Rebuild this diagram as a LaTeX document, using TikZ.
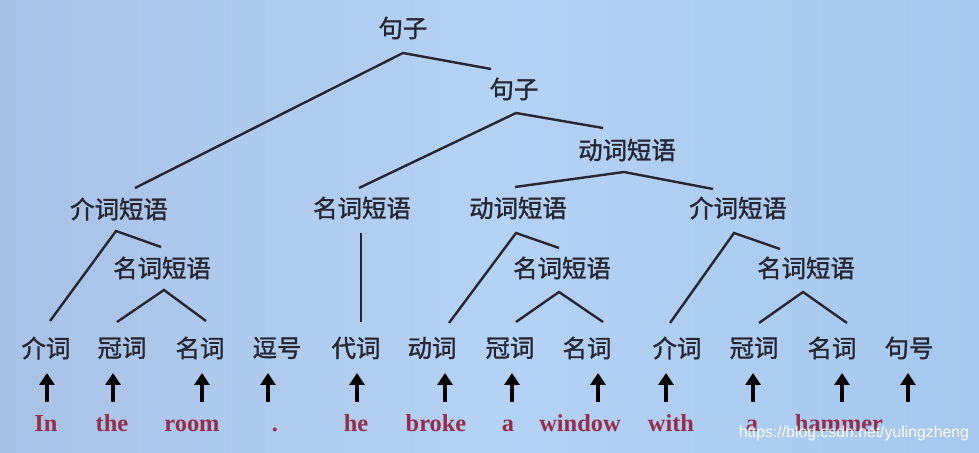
\documentclass[tikz,border=0pt]{standalone}
\usepackage{fontspec}
\usepackage{tikz}
\usetikzlibrary{calc,arrows.meta}

\newfontfamily\cjk[FakeBold=1.4]{Noto Sans CJK SC}
\newfontfamily\wordfont{Liberation Serif}
\newfontfamily\markfont{Liberation Sans}

\definecolor{bgleft}{RGB}{168,194,230}
\definecolor{bgmid}{RGB}{180,210,244}
\definecolor{bgright}{RGB}{166,200,238}
\definecolor{ink}{RGB}{38,38,50}
\definecolor{wordred}{RGB}{150,45,75}

\tikzset{
  tag/.style={font=\cjk\fontsize{12.2}{14}\selectfont, text=ink, inner sep=0pt},
  word/.style={font=\wordfont\bfseries\fontsize{12.2}{14}\selectfont, text=wordred, inner sep=0pt, anchor=base},
  branch/.style={line width=1.2pt, draw=ink},
  up/.style={line width=1.7pt, draw=black, -{Triangle[width=7.5pt,length=6pt]}}
}

\begin{document}
\begin{tikzpicture}[x=0.5pt,y=-0.5pt]

    \shade[left color=bgleft, right color=bgright, middle color=bgmid] (0,0) rectangle (979,453);
    \useasboundingbox (0,0) rectangle (979,453);

    % sentence and phrases
    \node[tag] (s1)  at (403,28)  {句子};
    \node[tag] (s2)  at (514,89)  {句子};
    \node[tag] (vp1) at (627,150) {动词短语};
    \node[tag] (pp1) at (119,209) {介词短语};
    \node[tag] (np1) at (362,208) {名词短语};
    \node[tag] (vp2) at (518,208) {动词短语};
    \node[tag] (pp2) at (738,208) {介词短语};
    \node[tag] (np2) at (162,268) {名词短语};
    \node[tag] (np3) at (562,268) {名词短语};
    \node[tag] (np4) at (806,268) {名词短语};

    % parts of speech
    \node[tag] (p1)  at (46,348)  {介词};
    \node[tag] (t1)  at (122,348) {冠词};
    \node[tag] (n1)  at (200,348) {名词};
    \node[tag] (c)   at (277,348) {逗号};
    \node[tag] (pro) at (356,348) {代词};
    \node[tag] (v)   at (432,348) {动词};
    \node[tag] (t2)  at (510,348) {冠词};
    \node[tag] (n2)  at (587,348) {名词};
    \node[tag] (p2)  at (677,348) {介词};
    \node[tag] (t3)  at (754,348) {冠词};
    \node[tag] (n3)  at (832,348) {名词};
    \node[tag] (fs)  at (909,348) {句号};

    % words
    \node[word] (w1)  at (46,432)  {In};
    \node[word] (w2)  at (112,432) {the};
    \node[word] (w3)  at (192,432) {room};
    \node[word] (w4)  at (275,432) {.};
    \node[word] (w5)  at (356,432) {he};
    \node[word] (w6)  at (436,432) {broke};
    \node[word] (w7)  at (508,432) {a};
    \node[word] (w8)  at (580,432) {window};
    \node[word] (w9)  at (671,432) {with};
    \node[word] (w10) at (752,432) {a};
    \node[word] (w11) at (839,432) {hammer};

    % tree branches
    \coordinate (s1a)  at ($(s1)+(0,25)$);
    \coordinate (s2a)  at ($(s2)+(2,24)$);
    \coordinate (vp1a) at ($(vp1)+(-3,22)$);
    \coordinate (pp1a) at ($(pp1)+(-3,22)$);
    \coordinate (np2a) at ($(np2)+(2,22)$);
    \coordinate (vp2a) at ($(vp2)+(-2,25)$);
    \coordinate (np3a) at ($(np3)+(-3,24)$);
    \coordinate (pp2a) at ($(pp2)+(-4,25)$);
    \coordinate (np4a) at ($(np4)+(-3,24)$);

    \draw[branch] ($(pp1)+(16,-21)$) -- (s1a) -- ($(s2)+(-23,-20)$);
    \draw[branch] ($(np1)+(-3,-20)$) -- (s2a) -- ($(vp1)+(-24,-22)$);
    \draw[branch] ($(vp2)+(-3,-21)$) -- (vp1a) -- ($(pp2)+(-25,-19)$);
    \draw[branch] ($(p1)+(4,-27)$) -- (pp1a) -- ($(np2)+(-1,-21)$);
    \draw[branch] ($(t1)+(-5,-26)$) -- (np2a) -- ($(n1)+(6,-27)$);
    \draw[branch] ($(np1)+(-1,25)$) -- ($(pro)+(5,-26)$);
    \draw[branch] ($(v)+(17,-25)$) -- (vp2a) -- ($(np3)+(-3,-20)$);
    \draw[branch] ($(t2)+(6,-26)$) -- (np3a) -- ($(n2)+(16,-26)$);
    \draw[branch] ($(p2)+(-7,-25)$) -- (pp2a) -- ($(np4)+(-26,-19)$);
    \draw[branch] ($(t3)+(5,-25)$) -- (np4a) -- ($(n3)+(15,-25)$);

    % arrows up from the words
    \foreach \t/\dx in {p1/1, t1/-9, n1/2, c/-9, pro/1, v/13, t2/2, n2/11, p2/-11, t3/-1, n3/10, fs/-1}
        \draw[up] ($(\t)+(\dx,54)$) -- ($(\t)+(\dx,25)$);

    \node[anchor=east, font=\markfont\fontsize{7.9}{9}\selectfont, text=white] (mark) at (976,433) {https://blog.csdn.net/yulingzheng};

\end{tikzpicture}
\end{document}
